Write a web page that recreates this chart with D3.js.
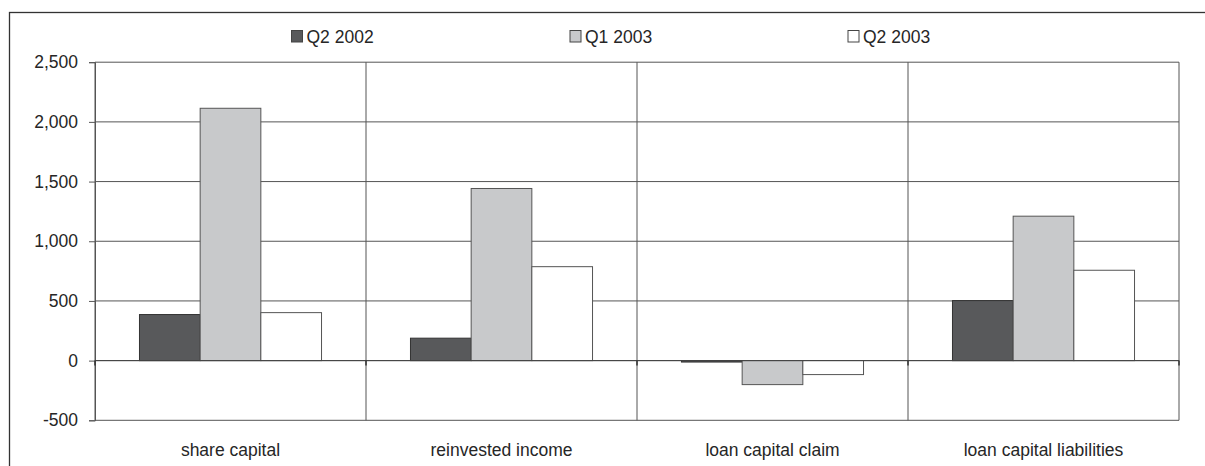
<!DOCTYPE html>
<html>
<head>
<meta charset="utf-8">
<script src="https://cdn.jsdelivr.net/npm/d3@7"></script>
<style>
  html, body { margin: 0; padding: 0; background: #fff; }
  svg { display: block; }
  text { font-family: "Liberation Sans", Arial, sans-serif; fill: #262626; }
</style>
</head>
<body>
<svg id="chart" width="1205" height="466"></svg>
<script>
// Categories, series and values (flows by component)
const categories = ["share capital", "reinvested income", "loan capital claim", "loan capital liabilities"];
const seriesNames = ["Q2 2002", "Q1 2003", "Q2 2003"];
const q2_2002 = [386, 188, -12, 503];
const q1_2003 = [2114, 1442, -201, 1210];
const q2_2003 = [402, 787, -117, 757];
const yTicks = [-500, 0, 500, 1000, 1500, 2000, 2500];

const seriesValues = [q2_2002, q1_2003, q2_2003];
const fills = ["#58595b", "#c8c9cb", "#ffffff"];
const strokes = ["#333333", "#555555", "#555555"];

const svg = d3.select("#chart");

// outer frame
svg.append("rect")
  .attr("x", 9.5).attr("y", 12.5)
  .attr("width", 1300).attr("height", 600)
  .attr("fill", "none").attr("stroke", "#333").attr("stroke-width", 1.3);

const plot = { left: 95, right: 1179, top: 62.2, bottom: 420.3 };

const y = d3.scaleLinear().domain([-500, 2500]).range([plot.bottom, plot.top]);
const x = d3.scaleBand().domain(categories).range([plot.left, plot.right]).paddingInner(0).paddingOuter(0);
const xs = d3.scaleBand().domain(seriesNames).range([0, x.bandwidth()]).paddingInner(0).paddingOuter(0.733);

// horizontal gridlines
svg.append("g").selectAll("line").data(yTicks).join("line")
  .attr("x1", plot.left).attr("x2", plot.right)
  .attr("y1", d => y(d)).attr("y2", d => y(d))
  .attr("stroke", "#555").attr("stroke-width", 1);

// vertical category dividers
const bounds = categories.map(c => x(c)).concat([plot.right]);
svg.append("g").selectAll("line").data(bounds).join("line")
  .attr("x1", d => d).attr("x2", d => d)
  .attr("y1", plot.top).attr("y2", plot.bottom)
  .attr("stroke", "#555").attr("stroke-width", 1);

// y axis (plain hyphen for negatives)
const fmt = d3.format(",");
const yAxis = d3.axisLeft(y).tickValues(yTicks).tickSize(6).tickPadding(11)
  .tickFormat(d => fmt(d).replace("\u2212", "-"));
const ya = svg.append("g").attr("transform", `translate(${plot.left},0)`).call(yAxis);
ya.select(".domain").attr("stroke", "#555");
ya.selectAll(".tick line").attr("stroke", "#555");
ya.selectAll(".tick text").attr("font-size", 17.5).attr("fill", "#262626")
  .attr("font-family", "Liberation Sans, Arial, sans-serif");

// bars
const groups = svg.append("g").selectAll("g").data(seriesNames).join("g");
groups.each(function(name, si) {
  d3.select(this).selectAll("rect").data(categories).join("rect")
    .attr("x", c => x(c) + xs(name))
    .attr("width", xs.bandwidth())
    .attr("y", (c, i) => y(Math.max(0, seriesValues[si][i])))
    .attr("height", (c, i) => Math.abs(y(seriesValues[si][i]) - y(0)))
    .attr("fill", fills[si])
    .attr("stroke", strokes[si]).attr("stroke-width", 1);
});

// zero line and category ticks
svg.append("line")
  .attr("x1", plot.left).attr("x2", plot.right)
  .attr("y1", y(0)).attr("y2", y(0))
  .attr("stroke", "#444").attr("stroke-width", 1);
svg.append("g").selectAll("line").data(bounds).join("line")
  .attr("x1", d => d).attr("x2", d => d)
  .attr("y1", y(0)).attr("y2", y(0) + 5)
  .attr("stroke", "#333").attr("stroke-width", 1.5);

// category labels
svg.append("g").selectAll("text").data(categories).join("text")
  .attr("x", c => x(c) + x.bandwidth() / 2)
  .attr("y", 456)
  .attr("text-anchor", "middle")
  .attr("font-size", 17.5)
  .text(c => c);

// legend
const legendX = [291, 569.5, 847.5];
const legend = svg.append("g").selectAll("g").data(seriesNames).join("g")
  .attr("transform", (d, i) => `translate(${legendX[i]},30)`);
legend.append("rect")
  .attr("x", 0.5).attr("y", 0.5).attr("width", 11).attr("height", 11.5)
  .attr("fill", (d, i) => fills[i]).attr("stroke", "#444").attr("stroke-width", 1);
legend.append("text")
  .attr("x", 15.5).attr("y", 12.5)
  .attr("font-size", 17.5)
  .text(d => d);
</script>
</body>
</html>
